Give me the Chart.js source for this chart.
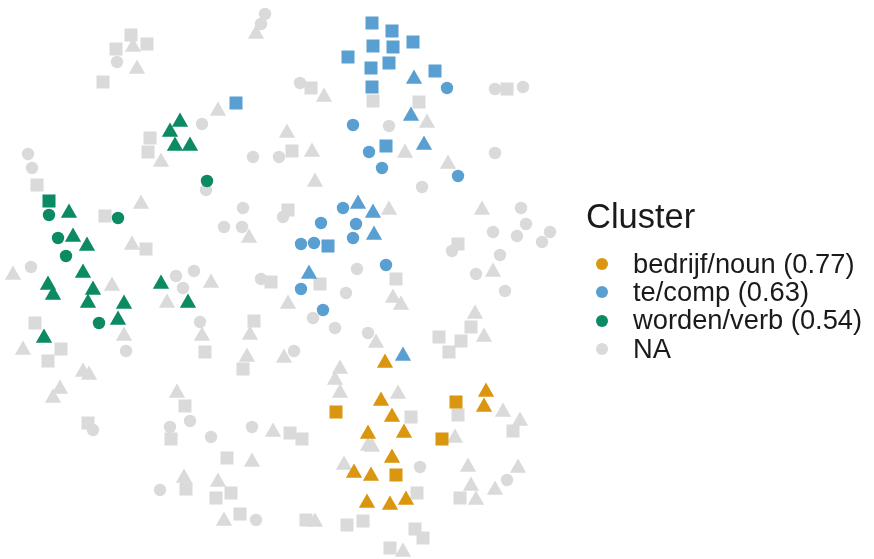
<!DOCTYPE html>
<html>
<head>
<meta charset="utf-8">
<script src="https://cdn.jsdelivr.net/npm/chart.js@4/dist/chart.umd.min.js"></script>
<style>
  html, body { margin: 0; padding: 0; background: #ffffff; }
  #wrap { position: relative; width: 874px; height: 559px; }
  #plot { position: absolute; left: 0; top: 0; }
  #legend { position: absolute; left: 0; top: 0; font-family: "Liberation Sans", Arial, sans-serif; color: #1a1a1a; }
  .ttl { position: absolute; font-size: 34.5px; line-height: 34.5px; white-space: nowrap; }
  .itm { position: absolute; font-size: 27.3px; line-height: 27.3px; white-space: nowrap; }
  .key { position: absolute; width: 12px; height: 12px; border-radius: 50%; }
</style>
</head>
<body>
<div id="wrap">
  <canvas id="plot" width="874" height="559"></canvas>
  <div id="legend"></div>
</div>
<script>
// Embedding coordinates per cluster: [x, y, shape] with shape c = circle, s = square, t = triangle
const nounPoints = [
  [385,363,'t'],[336,412,'s'],[381,401,'t'],[392,417,'t'],[368,434,'t'],[404,433,'t'],
  [392,458,'t'],[354,473,'t'],[371,476,'t'],[396,475,'s'],[367,503,'t'],[390,505,'t'],
  [406,500,'t'],[456,402,'s'],[486,392,'t'],[484,407,'t'],[442,439,'s']
];
const compPoints = [
  [372,23,'s'],[392,31,'s'],[413,42,'s'],[373,46,'s'],[393,47,'s'],[389,63,'s'],
  [348,57,'s'],[371,68,'s'],[435,71,'s'],[372,87,'s'],[386,146,'s'],[236,103,'s'],
  [328,246,'s'],
  [414,79,'t'],[411,116,'t'],[424,145,'t'],[358,204,'t'],[373,213,'t'],[374,235,'t'],
  [309,274,'t'],[403,356,'t'],
  [447,88,'c'],[353,125,'c'],[369,152,'c'],[382,168,'c'],[458,176,'c'],[343,208,'c'],
  [321,223,'c'],[356,224,'c'],[353,238,'c'],[301,244,'c'],[314,243,'c'],[386,265,'c'],
  [301,289,'c'],[323,310,'c']
];
const verbPoints = [
  [180,122,'t'],[170,132,'t'],[175,146,'t'],[190,146,'t'],[207,181,'c'],
  [49,201,'s'],[49,215,'c'],[69,213,'t'],[118,218,'c'],[58,238,'c'],[73,237,'t'],
  [87,246,'t'],[66,256,'c'],[83,273,'t'],[48,285,'t'],[53,295,'t'],[93,290,'t'],
  [161,284,'t'],[188,303,'t'],[88,303,'t'],[124,304,'t'],[99,323,'c'],[118,320,'t'],
  [44,338,'t']
];
const naPoints = [
  [131,35,'s'],[133,47,'t'],[147,44,'s'],[116,49,'s'],[117,62,'c'],[137,69,'t'],[103,82,'s'],
  [28,154,'c'],[32,168,'c'],[37,185,'s'],[150,138,'s'],[148,152,'s'],[161,162,'t'],
  [265,14,'c'],[261,24,'c'],[256,34,'t'],[300,83,'c'],[311,88,'s'],[324,97,'t'],
  [218,111,'t'],[202,124,'c'],[287,133,'t'],[292,151,'s'],[279,157,'c'],[253,157,'c'],
  [312,152,'t'],[315,182,'t'],
  [373,101,'s'],[419,102,'s'],[427,123,'t'],[389,126,'c'],[405,153,'t'],[448,164,'t'],
  [422,187,'c'],[495,89,'c'],[507,89,'s'],[523,87,'c'],[495,153,'c'],
  [105,216,'s'],[141,204,'t'],[132,245,'t'],[146,249,'s'],[31,267,'c'],[13,275,'t'],
  [112,286,'t'],[176,276,'c'],[183,288,'c'],[167,303,'t'],[124,336,'t'],[126,351,'c'],
  [35,323,'s'],[23,350,'t'],[61,349,'s'],[48,361,'s'],[83,372,'t'],[89,375,'t'],
  [206,190,'c'],
  [243,208,'c'],[224,227,'c'],[242,227,'c'],[249,238,'t'],[288,210,'s'],[283,217,'c'],
  [357,269,'c'],[194,271,'c'],[211,283,'t'],[261,279,'c'],[271,282,'s'],[320,284,'s'],
  [346,293,'c'],[288,304,'t'],[313,318,'c'],[335,328,'c'],[368,333,'c'],[200,322,'c'],
  [202,336,'t'],[254,321,'s'],[250,335,'t'],[205,352,'s'],[247,357,'t'],[294,351,'c'],
  [284,358,'t'],[243,369,'s'],[340,369,'t'],
  [389,210,'t'],[482,210,'t'],[521,208,'c'],[526,224,'c'],[493,232,'c'],[517,236,'c'],
  [550,232,'c'],[542,242,'c'],[458,244,'s'],[452,251,'c'],[500,255,'c'],[396,279,'s'],
  [476,274,'c'],[493,272,'t'],[505,291,'c'],[393,298,'t'],[401,305,'t'],[475,314,'t'],
  [471,327,'s'],[484,337,'t'],[439,337,'s'],[461,341,'s'],[449,352,'s'],[376,343,'t'],
  [60,389,'t'],[53,398,'t'],[88,423,'s'],[93,430,'c'],[177,393,'t'],[185,406,'s'],
  [190,421,'c'],[170,427,'c'],[171,439,'s'],[184,478,'t'],[186,489,'s'],[160,490,'c'],
  [335,380,'t'],[340,393,'t'],[211,437,'c'],[252,427,'c'],[273,432,'t'],[290,433,'s'],
  [302,439,'s'],[227,458,'s'],[252,462,'t'],[368,446,'t'],[344,465,'t'],[218,482,'t'],
  [216,498,'s'],[231,493,'s'],[224,521,'t'],[240,514,'s'],[256,520,'c'],[306,520,'s'],
  [315,522,'t'],[347,525,'s'],[363,521,'s'],
  [398,394,'t'],[411,417,'s'],[372,447,'t'],[420,467,'c'],[417,493,'s'],[415,529,'s'],
  [423,538,'s'],[390,548,'s'],[403,552,'t'],[458,415,'s'],[503,412,'t'],[520,421,'t'],
  [513,431,'s'],[455,438,'t'],[468,467,'t'],[518,468,'t'],[507,480,'c'],[471,486,'t'],
  [495,490,'t'],[460,498,'s'],[476,500,'t']
];

const clusterLabels = ['bedrijf/noun (0.77)', 'te/comp (0.63)', 'worden/verb (0.54)', 'NA'];
const clusterColors = ['#D9960E', '#5A9FD2', '#0B8A63', '#DADADA'];
const legendTitle = 'Cluster';

const shapeStyle = { c: 'circle', s: 'rect', t: 'triangle' };
const shapeRadius = { c: 6.2, s: 9.2, t: 9.4 };

function toData(list) {
  return list.map(p => ({ x: p[0], y: p[1], shape: p[2] }));
}

const pointSets = [nounPoints, compPoints, verbPoints, naPoints];

// NA drawn first so the clustered points sit on top
const datasets = pointSets.map((pts, i) => ({
  label: clusterLabels[i],
  data: toData(pts),
  backgroundColor: clusterColors[i],
  borderWidth: 0,
  pointStyle: ctx => shapeStyle[ctx.raw.shape],
  pointRadius: ctx => shapeRadius[ctx.raw.shape],
  order: i === 3 ? 1 : 0,
  clip: false
}));

new Chart(document.getElementById('plot'), {
  type: 'scatter',
  data: { datasets },
  options: {
    responsive: false,
    animation: false,
    events: [],
    layout: { padding: 0, autoPadding: false },
    plugins: { legend: { display: false }, tooltip: { enabled: false } },
    scales: {
      x: { type: 'linear', display: false, min: 0, max: 874 },
      y: { type: 'linear', display: false, min: 0, max: 559, reverse: true }
    }
  }
});

// Legend
const legend = document.getElementById('legend');
const title = document.createElement('div');
title.className = 'ttl';
title.textContent = legendTitle;
title.style.left = '586px';
title.style.top = (228 - 0.8465 * 34.5) + 'px';
legend.appendChild(title);
clusterLabels.forEach((lab, i) => {
  const baseY = 273 + i * 28.3;
  const key = document.createElement('div');
  key.className = 'key';
  key.style.background = clusterColors[i];
  key.style.left = (602 - 6) + 'px';
  key.style.top = (baseY - 9 - 6) + 'px';
  legend.appendChild(key);
  const t = document.createElement('div');
  t.className = 'itm';
  t.textContent = lab;
  t.style.left = '633px';
  t.style.top = (baseY - 0.8465 * 27.3) + 'px';
  legend.appendChild(t);
});
</script>
</body>
</html>
